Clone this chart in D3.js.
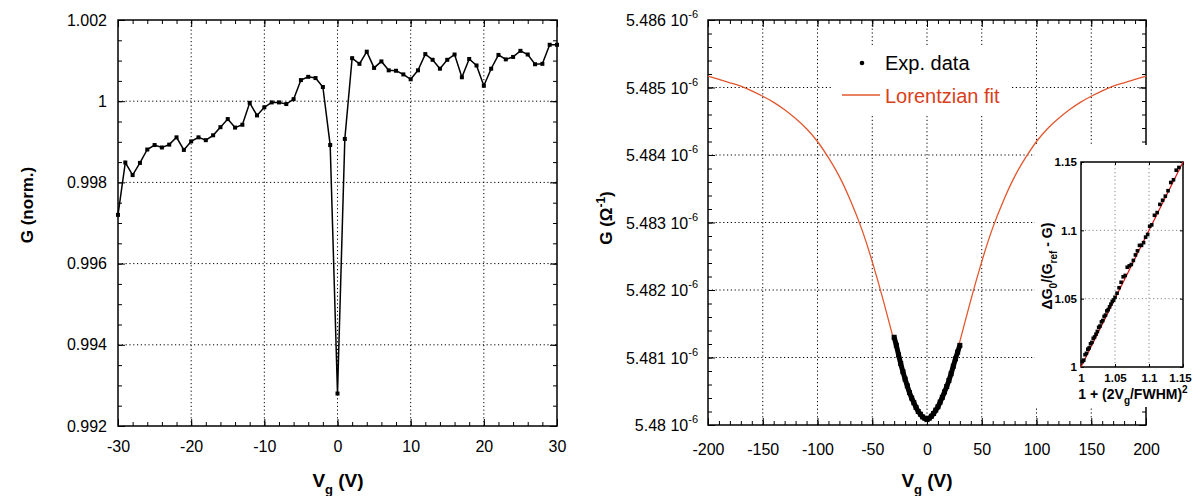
<!DOCTYPE html>
<html>
<head>
<meta charset="utf-8">
<script src="https://cdn.jsdelivr.net/npm/d3@7/dist/d3.min.js"></script>
<style>
body { margin: 0; background: #fff; }
text { font-family: "Liberation Sans", Arial, sans-serif; }
</style>
</head>
<body>
<div id="chart"></div>
<script>
// left panel: normalised conductance vs gate voltage
var leftV = [-30, -29, -28, -27, -26, -25, -24, -23, -22, -21, -20, -19, -18, -17, -16, -15,
	-14, -13, -12, -11, -10, -9, -8, -7, -6, -5, -4, -3, -2, -1, 0, 1, 2, 3, 4, 5, 6, 7, 8,
	9, 10, 11, 12, 13, 14, 15, 16, 17, 18, 19, 20, 21, 22, 23, 24, 25, 26, 27, 28, 29, 30];
var leftG = [0.99720, 0.99849, 0.99818, 0.99848, 0.99881, 0.99892, 0.99886, 0.99893, 0.99911,
	0.99880, 0.99901, 0.99911, 0.99904, 0.99916, 0.99936, 0.99956, 0.99935, 0.99942, 0.99996,
	0.99965, 0.99985, 0.99997, 0.99997, 0.99993, 1.00005, 1.00052, 1.00060, 1.00057, 1.00035,
	0.99892, 0.99280, 0.99907, 1.00106, 1.00092, 1.00122, 1.00082, 1.00098, 1.00076, 1.00075,
	1.00066, 1.00054, 1.00076, 1.00116, 1.00102, 1.00080, 1.00102, 1.00115, 1.00059, 1.00104,
	1.00088, 1.00038, 1.00080, 1.00114, 1.00103, 1.00109, 1.00124, 1.00115, 1.00091, 1.00092,
	1.00139, 1.00139];
var leftXTicks = [-30, -20, -10, 0, 10, 20, 30];
var leftYTicks = [0.992, 0.994, 0.996, 0.998, 1, 1.002];
var leftYLabels = ["0.992", "0.994", "0.996", "0.998", "1", "1.002"];

// right panel: G in units of 10^-6 ohm^-1
var expV = [-30, -28, -26, -24, -22, -20, -18, -16, -14, -12, -10, -8, -6, -4, -2, 0,
	2, 4, 6, 8, 10, 12, 14, 16, 18, 20, 22, 24, 26, 28, 30];
var expG = [5.48130, 5.48118, 5.48104, 5.48091, 5.48079, 5.48068, 5.48058, 5.48048, 5.48040,
	5.48033, 5.48026, 5.48020, 5.48016, 5.48012, 5.48010, 5.48008, 5.48010, 5.48013, 5.48017,
	5.48022, 5.48027, 5.48034, 5.48041, 5.48049, 5.48057, 5.48066, 5.48076, 5.48087, 5.48098,
	5.48108, 5.48118];
var fitV = [-200, -190, -180, -170, -160, -150, -140, -130, -120, -110, -100, -90, -80, -70,
	-60, -50, -40, -30, -20, -10, 0, 10, 20, 30, 40, 50, 60, 70, 80, 90, 100, 110, 120, 130,
	140, 150, 160, 170, 180, 190, 200];
var fitG = [5.48517, 5.48512, 5.48507, 5.48502, 5.48495, 5.48487, 5.48478, 5.48467, 5.48454,
	5.48439, 5.48420, 5.48396, 5.48368, 5.48333, 5.48292, 5.48242, 5.48185, 5.48124, 5.48067,
	5.48025, 5.48009, 5.48025, 5.48067, 5.48124, 5.48185, 5.48242, 5.48292, 5.48333, 5.48368,
	5.48396, 5.48420, 5.48439, 5.48454, 5.48467, 5.48478, 5.48487, 5.48495, 5.48502, 5.48507,
	5.48512, 5.48517];
var rightXTicks = [-200, -150, -100, -50, 0, 50, 100, 150, 200];
var rightYTicks = [5.480, 5.481, 5.482, 5.483, 5.484, 5.485, 5.486];
var rightYLabels = ["5.48", "5.481", "5.482", "5.483", "5.484", "5.485", "5.486"];

// inset
var insetX = [1.002, 1.004, 1.006, 1.008, 1.010, 1.012, 1.014, 1.016, 1.018, 1.020, 1.022,
	1.024, 1.026, 1.028, 1.030, 1.032, 1.034, 1.036, 1.038, 1.040, 1.042, 1.044, 1.046, 1.048,
	1.050, 1.053, 1.056, 1.059, 1.062, 1.065, 1.068, 1.071, 1.074, 1.077, 1.080, 1.083, 1.086,
	1.089, 1.092, 1.095, 1.098, 1.101, 1.104, 1.108, 1.112, 1.116, 1.120, 1.124, 1.128, 1.132,
	1.136, 1.140, 1.144];
var insetY = [1.004, 1.005, 1.009, 1.010, 1.013, 1.014, 1.017, 1.018, 1.021, 1.022, 1.024,
	1.026, 1.029, 1.030, 1.033, 1.034, 1.037, 1.038, 1.041, 1.042, 1.044, 1.046, 1.048, 1.049,
	1.051, 1.054, 1.058, 1.062, 1.066, 1.067, 1.073, 1.074, 1.075, 1.078, 1.082, 1.085, 1.089,
	1.089, 1.091, 1.095, 1.097, 1.103, 1.104, 1.111, 1.113, 1.119, 1.122, 1.125, 1.129, 1.135,
	1.137, 1.144, 1.146];
var insetFitX = [1, 1.15];
var insetFitY = [1, 1.15];
var insetTicks = [1, 1.05, 1.1, 1.15];
var insetLabels = ["1", "1.05", "1.1", "1.15"];

var fitColor = "#e2572f",
	fitText = "#d9401a";

var svg = d3.select("#chart")
	.append("svg")
	.attr("width", 1194)
	.attr("height", 496)
	.style("background", "#fff");

// plain hyphen minus, like the original figure
function plain(d) { return String(d); }

function grid(g, x, y, xVals, yVals, color) {
	var xr = x.range(), yr = y.range();
	g.append("g").selectAll("line").data(xVals).enter().append("line")
		.attr("x1", function(d) { return x(d); })
		.attr("x2", function(d) { return x(d); })
		.attr("y1", yr[0]).attr("y2", yr[1])
		.attr("stroke", color).attr("stroke-width", 1).attr("stroke-dasharray", "1.2,2.6");
	g.append("g").selectAll("line").data(yVals).enter().append("line")
		.attr("y1", function(d) { return y(d); })
		.attr("y2", function(d) { return y(d); })
		.attr("x1", xr[0]).attr("x2", xr[1])
		.attr("stroke", color).attr("stroke-width", 1).attr("stroke-dasharray", "1.2,2.6");
}

function ticks(g, x, y, xVals, yVals, len) {
	var xr = x.range(), yr = y.range();
	var t = g.append("g");
	t.append("g").attr("transform", "translate(0," + yr[0] + ")")
		.call(d3.axisBottom(x).tickValues(xVals).tickSize(-len).tickFormat(""));
	t.append("g").attr("transform", "translate(0," + yr[1] + ")")
		.call(d3.axisTop(x).tickValues(xVals).tickSize(-len).tickFormat(""));
	t.append("g").attr("transform", "translate(" + xr[0] + ",0)")
		.call(d3.axisLeft(y).tickValues(yVals).tickSize(-len).tickFormat(""));
	t.append("g").attr("transform", "translate(" + xr[1] + ",0)")
		.call(d3.axisRight(y).tickValues(yVals).tickSize(-len).tickFormat(""));
	t.selectAll(".domain").remove();
	t.selectAll(".tick line").attr("stroke", "#000").attr("stroke-width", 1);
}

function frame(g, x, y) {
	var xr = x.range(), yr = y.range();
	g.append("rect")
		.attr("x", xr[0]).attr("y", yr[1])
		.attr("width", xr[1] - xr[0]).attr("height", yr[0] - yr[1])
		.attr("fill", "none").attr("stroke", "#000").attr("stroke-width", 1.5);
}

// ---------- left panel ----------
var xL = d3.scaleLinear().domain([-30, 30]).range([118, 557]);
var yL = d3.scaleLinear().domain([0.992, 1.002]).range([426, 20]);
var left = svg.append("g");

grid(left, xL, yL, leftXTicks.slice(1, -1), leftYTicks.slice(1, -1), "#000");
ticks(left, xL, yL, xL.ticks(30), yL.ticks(20), 4);
ticks(left, xL, yL, leftXTicks, leftYTicks, 7);
frame(left, xL, yL);

left.append("g").attr("transform", "translate(0,426)")
	.call(d3.axisBottom(xL).tickValues(leftXTicks).tickSize(0).tickPadding(15).tickFormat(plain))
	.call(function(g) { g.select(".domain").remove(); })
	.selectAll("text").style("font-size", "16px").attr("fill", "#000");
left.append("g").attr("transform", "translate(118,0)")
	.call(d3.axisLeft(yL).tickValues(leftYTicks).tickSize(0).tickPadding(11)
		.tickFormat(function(d, i) { return leftYLabels[i]; }))
	.call(function(g) { g.select(".domain").remove(); })
	.selectAll("text").style("font-size", "16px").attr("fill", "#000");

left.append("path")
	.datum(leftV)
	.attr("fill", "none").attr("stroke", "#000").attr("stroke-width", 1.5)
	.attr("d", d3.line().x(function(d) { return xL(d); }).y(function(d, i) { return yL(leftG[i]); }));
left.selectAll(".pt").data(leftV).enter().append("rect")
	.attr("x", function(d) { return xL(d) - 2; })
	.attr("y", function(d, i) { return yL(leftG[i]) - 2; })
	.attr("width", 4).attr("height", 4).attr("fill", "#000");

left.append("text")
	.attr("transform", "translate(33,205) rotate(-90)")
	.style("text-anchor", "middle").style("font-size", "17px").style("font-weight", "bold")
	.text("G (norm.)");

var xtL = left.append("text").attr("x", 338).attr("y", 487)
	.style("text-anchor", "middle").style("font-size", "19px").style("font-weight", "bold");
xtL.append("tspan").text("V");
xtL.append("tspan").attr("dy", 7).style("font-size", "13px").text("g");
xtL.append("tspan").attr("dy", -7).text(" (V)");

// ---------- right panel ----------
var xR = d3.scaleLinear().domain([-200, 200]).range([708, 1146]);
var yR = d3.scaleLinear().domain([5.480, 5.486]).range([425, 20]);
var right = svg.append("g");

grid(right, xR, yR, rightXTicks.slice(1, -1), rightYTicks.slice(1, -1), "#000");
ticks(right, xR, yR, xR.ticks(40), yR.ticks(30), 4);
ticks(right, xR, yR, rightXTicks, rightYTicks, 7);
frame(right, xR, yR);

right.append("g").attr("transform", "translate(0,425)")
	.call(d3.axisBottom(xR).tickValues(rightXTicks).tickSize(0).tickPadding(19).tickFormat(plain))
	.call(function(g) { g.select(".domain").remove(); })
	.selectAll("text").style("font-size", "16px").attr("fill", "#000");

var yl = right.append("g").selectAll("text").data(rightYTicks).enter().append("text")
	.attr("x", 698)
	.attr("y", function(d) { return yR(d) + 6; })
	.style("text-anchor", "end").style("font-size", "16px");
yl.append("tspan").text(function(d, i) { return rightYLabels[i] + " 10"; });
yl.append("tspan").attr("dy", -8).style("font-size", "11px").text("-6");

// legend box hides grid behind it
right.append("rect").attr("x", 832).attr("y", 46).attr("width", 180).attr("height", 68)
	.attr("fill", "#fff");

right.append("path")
	.datum(fitV)
	.attr("fill", "none").attr("stroke", fitColor).attr("stroke-width", 1.3)
	.attr("d", d3.line().curve(d3.curveNatural)
		.x(function(d) { return xR(d); }).y(function(d, i) { return yR(fitG[i]); }));

right.append("path")
	.datum(expV)
	.attr("fill", "none").attr("stroke", "#000").attr("stroke-width", 5)
	.attr("stroke-linejoin", "round")
	.attr("d", d3.line().curve(d3.curveMonotoneX)
		.x(function(d) { return xR(d); }).y(function(d, i) { return yR(expG[i]); }));
right.selectAll(".pt").data(expV).enter().append("rect")
	.attr("x", function(d) { return xR(d) - 2.5; })
	.attr("y", function(d, i) { return yR(expG[i]) - 2.5; })
	.attr("width", 5).attr("height", 5).attr("fill", "#000");

right.append("circle").attr("cx", 862).attr("cy", 63).attr("r", 2.3).attr("fill", "#000");
right.append("text").attr("x", 885).attr("y", 70).style("font-size", "20px").text("Exp. data");
right.append("line").attr("x1", 842).attr("x2", 880).attr("y1", 95).attr("y2", 95)
	.attr("stroke", fitColor).attr("stroke-width", 1.5);
right.append("text").attr("x", 885).attr("y", 103).style("font-size", "20px")
	.attr("fill", fitText).text("Lorentzian fit");

var ytR = right.append("text")
	.attr("transform", "translate(612,218) rotate(-90)")
	.style("text-anchor", "middle").style("font-size", "17px").style("font-weight", "bold");
ytR.append("tspan").text("G (\u03A9");
ytR.append("tspan").attr("dy", -7).style("font-size", "12px").text("-1");
ytR.append("tspan").attr("dy", 7).text(")");

var xtR = right.append("text").attr("x", 927).attr("y", 487)
	.style("text-anchor", "middle").style("font-size", "19px").style("font-weight", "bold");
xtR.append("tspan").text("V");
xtR.append("tspan").attr("dy", 7).style("font-size", "13px").text("g");
xtR.append("tspan").attr("dy", -7).text(" (V)");

// ---------- inset ----------
var xI = d3.scaleLinear().domain([1, 1.15]).range([1081, 1183]);
var yI = d3.scaleLinear().domain([1, 1.15]).range([367, 162]);
var inset = svg.append("g");

inset.append("rect").attr("x", 1035).attr("y", 145).attr("width", 159).attr("height", 262)
	.attr("fill", "#fff");
grid(inset, xI, yI, insetTicks.slice(1, -1), insetTicks.slice(1, -1), "#888");
ticks(inset, xI, yI, insetTicks, insetTicks, 3);
frame(inset, xI, yI);

inset.append("path")
	.datum(insetFitX)
	.attr("fill", "none").attr("stroke", "#e01010").attr("stroke-width", 1.2)
	.attr("d", d3.line().x(function(d) { return xI(d); }).y(function(d, i) { return yI(insetFitY[i]); }));
inset.selectAll(".pt").data(insetX).enter().append("rect")
	.attr("x", function(d) { return xI(d) - 1.8; })
	.attr("y", function(d, i) { return yI(insetY[i]) - 1.8; })
	.attr("width", 3.6).attr("height", 3.6).attr("fill", "#000");

inset.append("g").attr("transform", "translate(0,367)")
	.call(d3.axisBottom(xI).tickValues(insetTicks).tickSize(0).tickPadding(7)
		.tickFormat(function(d, i) { return insetLabels[i]; }))
	.call(function(g) { g.select(".domain").remove(); })
	.selectAll("text").style("font-size", "11.5px").style("font-weight", "bold").attr("fill", "#000")
	.attr("dx", function(d, i) { return i === insetTicks.length - 1 ? -3 : 0; });
inset.append("g").attr("transform", "translate(1081,0)")
	.call(d3.axisLeft(yI).tickValues(insetTicks).tickSize(0).tickPadding(4)
		.tickFormat(function(d, i) { return insetLabels[i]; }))
	.call(function(g) { g.select(".domain").remove(); })
	.selectAll("text").style("font-size", "11.5px").style("font-weight", "bold").attr("fill", "#000");

var ytI = inset.append("text")
	.attr("transform", "translate(1052,266) rotate(-90)")
	.style("text-anchor", "middle").style("font-size", "14px").style("font-weight", "bold");
ytI.append("tspan").text("\u0394G");
ytI.append("tspan").attr("dy", 5).style("font-size", "10px").text("0");
ytI.append("tspan").attr("dy", -5).text("/(G");
ytI.append("tspan").attr("dy", 5).style("font-size", "10px").text("ref");
ytI.append("tspan").attr("dy", -5).text(" - G)");

var xtI = inset.append("text").attr("x", 1133).attr("y", 399)
	.style("text-anchor", "middle").style("font-size", "14px").style("font-weight", "bold");
xtI.append("tspan").text("1 + (2V");
xtI.append("tspan").attr("dy", 5).style("font-size", "10px").text("g");
xtI.append("tspan").attr("dy", -5).text("/FWHM)");
xtI.append("tspan").attr("dy", -6).style("font-size", "10px").text("2");
</script>
</body>
</html>
